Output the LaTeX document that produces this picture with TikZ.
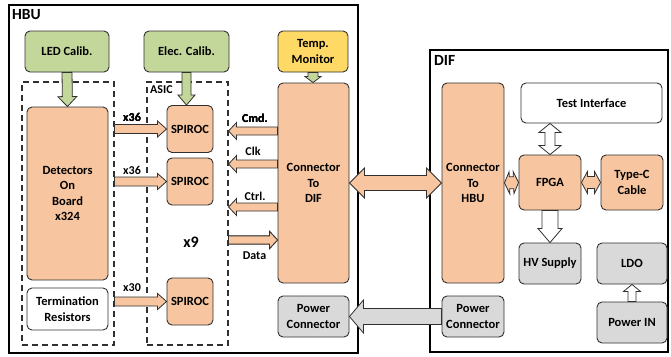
\documentclass[tikz,border=0pt]{standalone}
\usepackage{fontspec}
\setmainfont{Carlito}
\usetikzlibrary{calc}

\definecolor{edge}{HTML}{303030}
\definecolor{peach}{HTML}{F7C59F}
\definecolor{olive}{HTML}{C4D79B}
\definecolor{amber}{HTML}{FFD966}
\definecolor{silver}{HTML}{D9D9D9}

% block arrow: style, from, to, shaft half width, head half width, head length
\newcommand{\blockarrow}[6]{%
  \coordinate (ba-s) at (#2);
  \coordinate (ba-t) at (#3);
  \coordinate (ba-h) at ($(ba-t)!#6!(ba-s)$);
  \draw[#1] ($(ba-s)!#4!90:(ba-t)$) -- ($(ba-h)!#4!90:(ba-t)$) -- ($(ba-h)!#5!90:(ba-t)$)
    -- (ba-t) -- ($(ba-h)!#5!-90:(ba-t)$) -- ($(ba-h)!#4!-90:(ba-t)$)
    -- ($(ba-s)!#4!-90:(ba-t)$) -- cycle;
}
% same with a head on both ends
\newcommand{\dblarrow}[6]{%
  \coordinate (da-s) at (#2);
  \coordinate (da-t) at (#3);
  \coordinate (da-a) at ($(da-s)!#6!(da-t)$);
  \coordinate (da-b) at ($(da-t)!#6!(da-s)$);
  \draw[#1] (da-s) -- ($(da-a)!#5!90:(da-t)$) -- ($(da-a)!#4!90:(da-t)$)
    -- ($(da-b)!#4!90:(da-t)$) -- ($(da-b)!#5!90:(da-t)$) -- (da-t)
    -- ($(da-b)!#5!-90:(da-t)$) -- ($(da-b)!#4!-90:(da-t)$)
    -- ($(da-a)!#4!-90:(da-t)$) -- ($(da-a)!#5!-90:(da-t)$) -- cycle;
}

\begin{document}
\begin{tikzpicture}[x=1pt, y=-1pt,
    font=\bfseries\fontsize{12.5}{15.5}\selectfont,
    box/.style={draw=edge, line width=0.9pt, rounded corners=5pt, align=center, inner sep=0pt},
    frame/.style={draw=black, line width=1.8pt, inner sep=0pt},
    dashbox/.style={draw=edge, line width=1.1pt, dash pattern=on 6pt off 4pt, inner sep=0pt},
    tag/.style={font=\bfseries\fontsize{15.5}{17}\selectfont, anchor=north west, inner sep=0pt},
    lbl/.style={font=\bfseries\fontsize{12}{13}\selectfont, inner sep=0pt},
    peacharrow/.style={draw=edge, fill=peach, line width=0.8pt, line join=miter},
    greenarrow/.style={draw=edge, fill=olive, line width=0.8pt},
    grayarrow/.style={draw=edge, fill=silver, line width=0.8pt},
    whitearrow/.style={draw=edge, fill=white, line width=0.8pt}]

  \useasboundingbox (0,0) rectangle (671,356);

  % outer boards
  \node[frame, minimum width=349pt, minimum height=348pt] (hbu) at (183.5,179) {};
  \node[tag] at (12,9) {HBU};
  \node[frame, minimum width=238pt, minimum height=302pt] (dif) at (549,201) {};
  \node[tag] at (434,55) {DIF};

  % HBU side
  \node[dashbox, minimum width=92pt, minimum height=263pt] (dbox) at (68,213.5) {};
  \node[dashbox, minimum width=81pt, minimum height=263pt] (abox) at (187.5,213.5) {};
  \node[lbl, anchor=north west] at (150,85) {ASIC};

  \node[box, fill=olive, minimum width=84pt, minimum height=41pt] (led) at (67,51.5) {LED Calib.};
  \node[box, fill=olive, minimum width=85pt, minimum height=41pt] (elec) at (186.5,51.5) {Elec. Calib.};
  \node[box, fill=amber, minimum width=70pt, minimum height=41pt] (temp) at (313,51.5) {Temp.\\Monitor};

  \node[box, fill=peach, minimum width=81pt, minimum height=173pt] (det) at (67.5,193.5) {Detectors\\On\\Board\\x324};
  \node[box, fill=white, minimum width=81pt, minimum height=42pt] (term) at (67.5,309) {Termination\\Resistors};

  \foreach \n/\y in {spi1/129, spi2/181.5, spi3/301.5}
    \node[box, fill=peach, minimum width=46pt, minimum height=47pt] (\n) at (190,\y) {SPIROC};
  \node[font=\bfseries\fontsize{16}{18}\selectfont] (nine) at (191,242) {x9};

  \node[box, fill=peach, minimum width=71pt, minimum height=200pt] (cdif) at (313.5,183) {Connector\\To\\DIF};
  \node[box, fill=silver, minimum width=71pt, minimum height=41pt] (pch) at (313.5,316.5) {Power\\Connector};

  % DIF side
  \node[box, fill=peach, minimum width=62pt, minimum height=200pt] (chbu) at (473,183) {Connector\\To\\HBU};
  \node[box, fill=white, minimum width=141pt, minimum height=40pt] (test) at (591.5,103) {Test Interface};
  \node[box, fill=peach, minimum width=62pt, minimum height=55pt] (fpga) at (550,182.5) {FPGA};
  \node[box, fill=peach, minimum width=62pt, minimum height=55pt] (typec) at (632,182.5) {Type-C\\Cable};
  \node[box, fill=silver, minimum width=62pt, minimum height=41pt] (hv) at (550,263.5) {HV Supply};
  \node[box, fill=silver, minimum width=70pt, minimum height=41pt] (ldo) at (632,263.5) {LDO};
  \node[box, fill=silver, minimum width=70pt, minimum height=41pt] (pin) at (632,322.5) {Power IN};
  \node[box, fill=silver, minimum width=62pt, minimum height=41pt] (pcd) at (473,316.5) {Power\\Connector};

  % calibration inputs
  \blockarrow{greenarrow}{led.south}{det.north}{5pt}{9.5pt}{10pt}
  \blockarrow{greenarrow}{elec.south}{elec.south |- spi1.north}{4.5pt}{8.5pt}{10pt}
  \blockarrow{greenarrow}{temp.south}{temp.south |- cdif.north}{5pt}{8pt}{6pt}

  % channels into the ASICs
  \foreach \n in {spi1, spi2, spi3}
    \blockarrow{peacharrow}{dbox.east |- \n.west}{\n.west}{4.5pt}{8pt}{9pt}
  \node[lbl] at (132,117) {x36};
  \node[lbl] at (132,170) {x36};
  \node[lbl] at (132,288) {x30};

  % slow control and readout
  \foreach \y in {131, 164, 207}
    \blockarrow{peacharrow}{cdif.west |- 0,\y}{abox.east |- 0,\y}{4pt}{8.5pt}{8pt}
  \blockarrow{peacharrow}{abox.east |- 0,240}{cdif.west |- 0,240}{4pt}{8.5pt}{8pt}
  \node[lbl] at (255,118) {Cmd.};
  \node[lbl] at (253,151) {Clk};
  \node[lbl] at (255,196) {Ctrl.};
  \node[lbl] at (254.5,256) {Data};

  % board to board
  \dblarrow{peacharrow}{cdif.east}{chbu.west}{7.5pt}{15pt}{15pt}
  \blockarrow{grayarrow}{pcd.west}{pch.east}{8pt}{16.5pt}{14pt}

  % DIF internals
  \dblarrow{peacharrow}{chbu.east}{fpga.west}{6pt}{11pt}{5pt}
  \dblarrow{peacharrow}{fpga.east}{typec.west}{6pt}{11pt}{6pt}
  \dblarrow{whitearrow}{fpga.north}{fpga.north |- test.south}{5pt}{11pt}{9pt}
  \blockarrow{whitearrow}{fpga.south}{hv.north}{8pt}{12pt}{14pt}
  \blockarrow{whitearrow}{pin.north}{ldo.south}{4pt}{8.5pt}{7pt}
\end{tikzpicture}
\end{document}
